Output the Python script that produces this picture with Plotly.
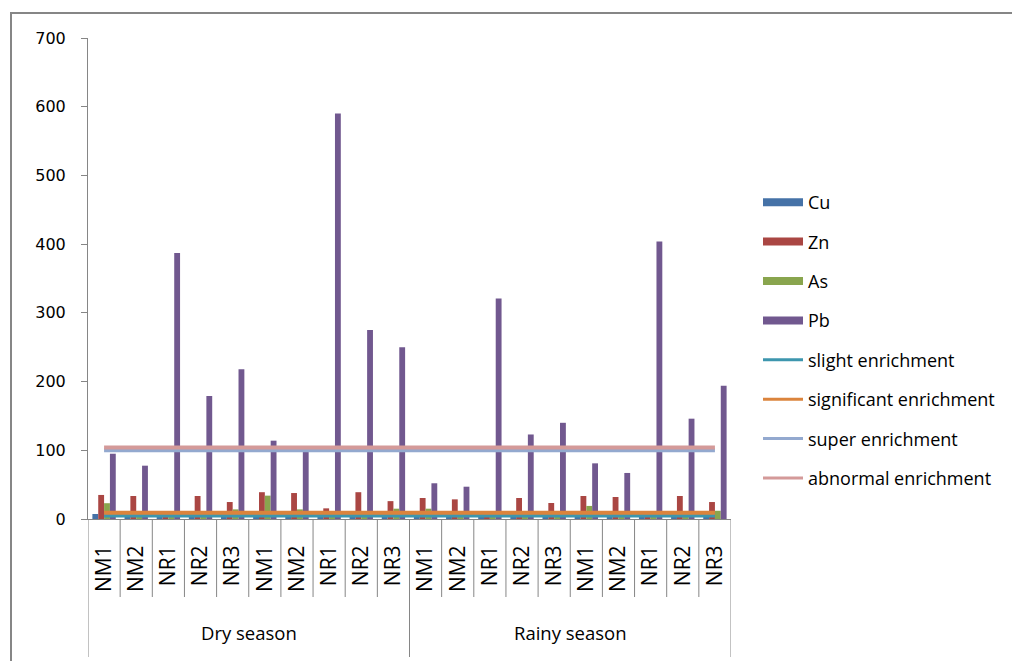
import plotly.graph_objects as go

# ---- data ----
seasons = ["Dry season", "Rainy season"]
sites = ["NM1", "NM2", "NR1", "NR2", "NR3", "NM1", "NM2", "NR1", "NR2", "NR3",
         "NM1", "NM2", "NR1", "NR2", "NR3", "NM1", "NM2", "NR1", "NR2", "NR3"]

cu = [7.3, 6, 5, 6, 5, 8, 7, 5, 6, 6,
      6, 5, 5, 6, 5, 7, 6, 5, 6, 6]
zn = [35, 33.5, 6, 33.5, 24.7, 39, 37.8, 15.5, 39, 26,
      30.6, 28.6, 6, 30.6, 23.3, 33.5, 32, 6, 33.5, 24.7]
as_ = [23, 9, 8, 10, 14, 34, 14, 8, 9, 15,
       15, 10, 8, 11, 9, 19, 11, 8, 10, 12]
pb = [95, 77.6, 387, 179, 218, 114, 100, 590, 275, 250,
      52, 47, 321, 123, 140, 81, 67, 404, 146, 194]

slight = 5
significant = 9
super_ = 100
abnormal = 104

y_ticks = [0, 100, 200, 300, 400, 500, 600, 700]

# ---- styling ----
bar_series = [("Cu", cu, "#4572A7"), ("Zn", zn, "#AA4643"),
              ("As", as_, "#89A54E"), ("Pb", pb, "#71588F")]
line_series = [("slight enrichment", slight, "#3D96AE"),
               ("significant enrichment", significant, "#DB843D"),
               ("super enrichment", super_, "#93A9CF"),
               ("abnormal enrichment", abnormal, "#D49A99")]

pos = list(range(len(sites)))
n_per_season = len(sites) // len(seasons)

fig = go.Figure()
for name, vals, col in bar_series:
    fig.add_trace(go.Bar(x=pos, y=vals, name=name, marker_color=col,
                         marker_line_width=0, showlegend=False))
for name, val, col in line_series:
    fig.add_trace(go.Scatter(x=pos, y=[val] * len(pos), mode="lines",
                             line=dict(color=col, width=4), showlegend=False))

# legend entries (legend-only)
for i, (name, vals, col) in enumerate(bar_series):
    fig.add_trace(go.Scatter(x=[None], y=[None], mode="lines", name=name,
                             line=dict(color=col, width=8), legendgroup=f"g{i}"))
for i, (name, val, col) in enumerate(line_series):
    fig.add_trace(go.Scatter(x=[None], y=[None], mode="lines", name=name,
                             line=dict(color=col, width=3), legendgroup=f"h{i}"))

# page has an 8px body margin; target screen coords below
OFF = 8
L, R, T, B = 88, 731, 38, 519
W, H = 1020 - OFF, 661 - OFF
pw, ph = R - L, B - T


def py(ypix):
    return (B - ypix) / ph


def px(xpix):
    return (xpix - L) / pw


shapes = []
for k in range(1, len(sites)):
    if k % n_per_season == 0:
        continue
    shapes.append(dict(type="line", xref="x", yref="paper", x0=k - 0.5, x1=k - 0.5,
                       y0=0, y1=py(597), line=dict(color="#868686", width=1)))
for k in range(0, len(sites) + 1, n_per_season):
    shapes.append(dict(type="line", xref="x", yref="paper", x0=k - 0.5, x1=k - 0.5,
                       y0=0, y1=py(657), line=dict(color="#868686", width=1)))
shapes.append(dict(type="rect", xref="paper", yref="paper",
                   x0=px(11), x1=px(1060), y0=py(700), y1=py(13),
                   line=dict(color="#868686", width=2), fillcolor="rgba(0,0,0,0)",
                   layer="below"))

annotations = []
for i, s in enumerate(seasons):
    annotations.append(dict(x=i * n_per_season + (n_per_season - 1) / 2, y=py(632),
                            xref="x", yref="paper", text=s, showarrow=False,
                            font=dict(family="Open Sans", size=18.5, color="#000000"),
                            xanchor="center", yanchor="middle"))

fig.update_layout(
    width=W, height=H,
    margin=dict(l=L - OFF, r=(W + OFF) - R, t=T - OFF, b=(H + OFF) - B, pad=0),
    paper_bgcolor="white", plot_bgcolor="white",
    barmode="group", bargap=0.273, bargroupgap=0,
    shapes=shapes, annotations=annotations,
    legend=dict(x=px(758), y=py(184), xanchor="left", yanchor="top",
                font=dict(family="Open Sans", size=18, color="#000000"),
                tracegroupgap=13, itemwidth=40, bgcolor="rgba(0,0,0,0)"),
    xaxis=dict(range=[-0.5, len(sites) - 0.5], tickmode="array", tickvals=pos,
               ticktext=sites, tickangle=-90, showline=True, linecolor="#868686",
               linewidth=1, ticks="", showgrid=False, zeroline=False,
               ticklabelstandoff=17,
               tickfont=dict(family="Open Sans", size=21, color="#000000")),
    yaxis=dict(range=[0, 700], tickmode="array", tickvals=y_ticks, showline=True,
               linecolor="#868686", linewidth=1, ticks="outside", ticklen=6,
               tickcolor="#868686", showgrid=False, zeroline=False,
               ticklabelstandoff=12,
               tickfont=dict(family="DejaVu Sans", size=16, color="#000000")),
)

fig.write_html("out.html")
